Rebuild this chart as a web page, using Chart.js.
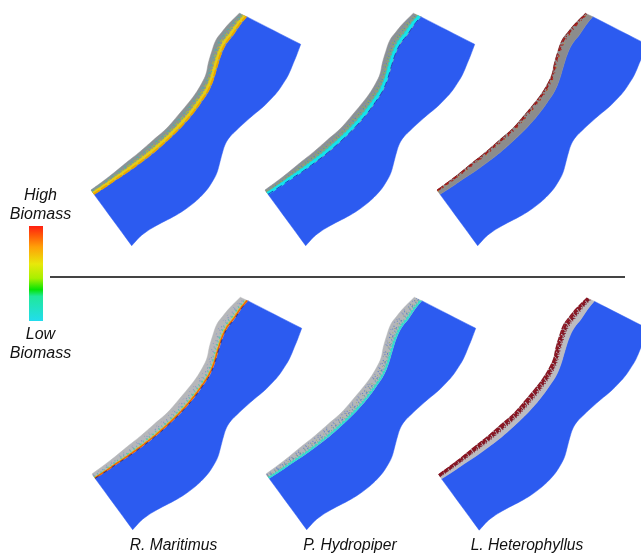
<!DOCTYPE html>
<html><head><meta charset="utf-8">
<style>html,body{margin:0;padding:0;background:#fff}canvas{display:block;filter:blur(0.4px)}</style>
<script src="https://cdn.jsdelivr.net/npm/chart.js@4"></script></head>
<body><canvas id="c" width="641" height="555"></canvas>
<script>
// Map outlines (top-left panel, page units)
const bankOuterX=[91,103.3,113.3,126.7,140,153.3,166.7,178.3,186.7,195,201.7,206,208.3,211.7,216,221.7,228.3,239.3];
const bankOuterY=[190,181,173.3,162.3,151.7,140,128.3,115,105,94.3,83.3,74,63.3,51.7,40,32.3,24.3,13.3];
const bankInnerX=[94,105,116.7,128.3,140,155,170,183.3,193.3,201.7,208.3,213.3,217.3,221.7,226.7,233.3,240,246.7];
const bankInnerY=[194.3,187.3,179.3,171.7,163.3,151.7,138.3,125,113.3,101.7,91.7,80,66.7,53.3,43.3,35,25,16.7];
const waterEdgeX=[300.7,296.7,293.3,288.3,283.3,278.3,271.7,263.3,253.3,245,236.7,230,225.7,222.7,220,216.7,211.7,206.7,200,193.3,183.3,173.3,161.7,151.7,145,140,131.7];
const waterEdgeY=[44.3,55,63.3,75,83.3,90.7,98.3,106.7,115,122.3,130,136.7,143.3,151.7,161.7,173.3,182.7,190,197.3,203.3,210.7,216.7,222.7,228.3,232.7,236.7,245.7];
// Panel shifts
const panelShiftX=[0,174,346,1,175,347.5];
const panelShiftY=[0,0,0,284,284,284.5];
// Labels
const speciesLabels=["R. Maritimus","P. Hydropiper","L. Heterophyllus"];
const speciesX=[173.5,350,527];
const speciesY=[545.5,545.5,545.5];
const legendLabels=["High","Biomass","Low","Biomass"];
const legendLabelY=[196,215,335,354];
const legendLabelX=[40.5,40.5,40.5,40.5];
const dividerX=[50,625];
const dividerY=[277,277];
const colorbarX=[36,36];
const colorbarY=[226,321];
const colorbarStops=[[0,'#ff1f12'],[0.1,'#ff5a08'],[0.22,'#ffa008'],[0.4,'#e8e80a'],[0.55,'#a8f000'],[0.67,'#06e406'],[0.74,'#20e89a'],[1,'#22dcee']];

const waterColor='#2c5bf0';
// strand: [position across bank 0=outer 1=inner, colour, width, dash]
const panelStyles=[
 {bank:'#8e9194',strands:[[.2,'#80989a',2,[3,2]],[.34,'#58a8a8',1.8,[2,2,1,3]],[.46,'#a8ac50',1.8,[1,2,3,2]],[.56,'#48b0b8',1.4,[1,3]],[.62,'#ccc030',1.8,[2,1,1,2]],[.76,'#e8cc14',3,[]],[.93,'#eaa400',1.8,[7,2]]]},
 {bank:'#8e9194',strands:[[.2,'#7a90a8',1.6,[1,2]],[.34,'#90a860',1.4,[2,3,1,2]],[.44,'#5090b0',1.4,[1,2,1,4]],[.54,'#a0b050',1.4,[1,2]],[.66,'#40c8b0',1.8,[3,1]],[.84,'#12e4ee',3,[]],[1,'#1a3cc0',1,[6,4]]]},
 {bank:'#8c8c8c',strands:[[.03,'#8e1a1a',1,[7,2]],[.14,'#a01818',1.6,[4,2,1,3]],[.26,'#b03020',1.1,[1,4,2,5]],[.34,'#c8a030',.9,[1,9,1,14]]]},
 {bank:'#b6b7ba',strands:[[.3,'#8a9ac8',1,[1,5,1,9]],[.48,'#7f90c8',1.1,[1,3,1,6]],[.62,'#60b8b0',1.2,[1,3]],[.74,'#44d0b0',1.3,[2,2,1,3]],[.86,'#d8d020',1.4,[4,1]],[.94,'#f06000',1.4,[]],[1.02,'#1a2a90',.9,[4,6]]]},
 {bank:'#b4b6ba',strands:[[.2,'#8090c0',1.1,[1,3,1,7]],[.34,'#6080c0',1.1,[1,2,1,5]],[.48,'#a0b070',1.1,[1,4]],[.6,'#5f80c8',1.1,[1,2,2,4]],[.72,'#60c0a0',1.3,[1,2]],[.86,'#40d8c0',1.6,[3,1]],[.95,'#28e0d8',1.2,[]]]},
 {bank:'#bcbcc0',strands:[[.05,'#8a1420',1.4,[6,1]],[.2,'#8c1420',2.2,[5,1]],[.36,'#7e1a28',2,[3,1,1,1]],[.5,'#90303c',1.2,[1,2]]]}
];

function pts(xs,ys,dx,dy){return xs.map((x,i)=>({x:x+dx,y:ys[i]+dy}));}
const canvas=document.getElementById('c');
const datasets=[];
const base={type:'scatter',showLine:true,pointRadius:0,pointHoverRadius:0,clip:false};
panelStyles.forEach((st,p)=>{
  const dx=panelShiftX[p],dy=panelShiftY[p];
  const inner=pts(bankInnerX,bankInnerY,dx,dy), outer=pts(bankOuterX,bankOuterY,dx,dy), edge=pts(waterEdgeX,waterEdgeY,dx,dy);
  const top=inner[inner.length-1], low=inner[0], tail=edge[edge.length-1];
  const water=[top,top,edge[0],...edge,tail,low,...inner,top];
  datasets.push({...base,data:water,tension:.4,fill:'shape',backgroundColor:waterColor,borderColor:waterColor,borderWidth:.5});
  const band=[outer[0],outer[0],...outer,outer[outer.length-1],top,top,...inner.slice().reverse(),low,outer[0],outer[0]];
  datasets.push({...base,data:band,tension:.4,fill:'shape',backgroundColor:st.bank,borderColor:st.bank,borderWidth:.5});
  st.strands.forEach(s=>{
    const line=outer.map((o,i)=>({x:o.x+(inner[i].x-o.x)*s[0],y:o.y+(inner[i].y-o.y)*s[0]}));
    datasets.push({...base,data:line,tension:.4,fill:false,borderColor:s[1],borderWidth:s[2],borderDash:s[3]});
  });
});
datasets.push({...base,data:pts(dividerX,dividerY,0,0),borderColor:'#444444',borderWidth:2,fill:false});
const barGradient=canvas.getContext('2d').createLinearGradient(0,colorbarY[0],0,colorbarY[1]);
colorbarStops.forEach(t=>barGradient.addColorStop(t[0],t[1]));
datasets.push({...base,data:pts(colorbarX,colorbarY,0,0),borderWidth:14,fill:false,borderColor:barGradient});

const textPlugin={id:'labels',afterDatasetsDraw(c){
  const g=c.ctx,xs=c.scales.x,ys=c.scales.y;
  g.save();g.fillStyle='#111';g.textAlign='center';g.textBaseline='middle';
  g.font='italic 15.6px "Liberation Sans"';
  speciesLabels.forEach((t,i)=>g.fillText(t,xs.getPixelForValue(speciesX[i]),ys.getPixelForValue(speciesY[i])));
  g.font='italic 16px "Liberation Sans"';
  legendLabels.forEach((t,i)=>g.fillText(t,xs.getPixelForValue(legendLabelX[i]),ys.getPixelForValue(legendLabelY[i])));
  g.restore();
}};
new Chart(canvas,{type:'scatter',data:{datasets:datasets.reverse()},plugins:[textPlugin],options:{
  responsive:false,animation:false,devicePixelRatio:1,
  layout:{padding:0},
  plugins:{legend:{display:false},tooltip:{enabled:false},title:{display:false}},
  events:[],
  scales:{x:{type:'linear',min:0,max:641,display:false},y:{type:'linear',min:0,max:555,reverse:true,display:false}}
}});
</script></body></html>
